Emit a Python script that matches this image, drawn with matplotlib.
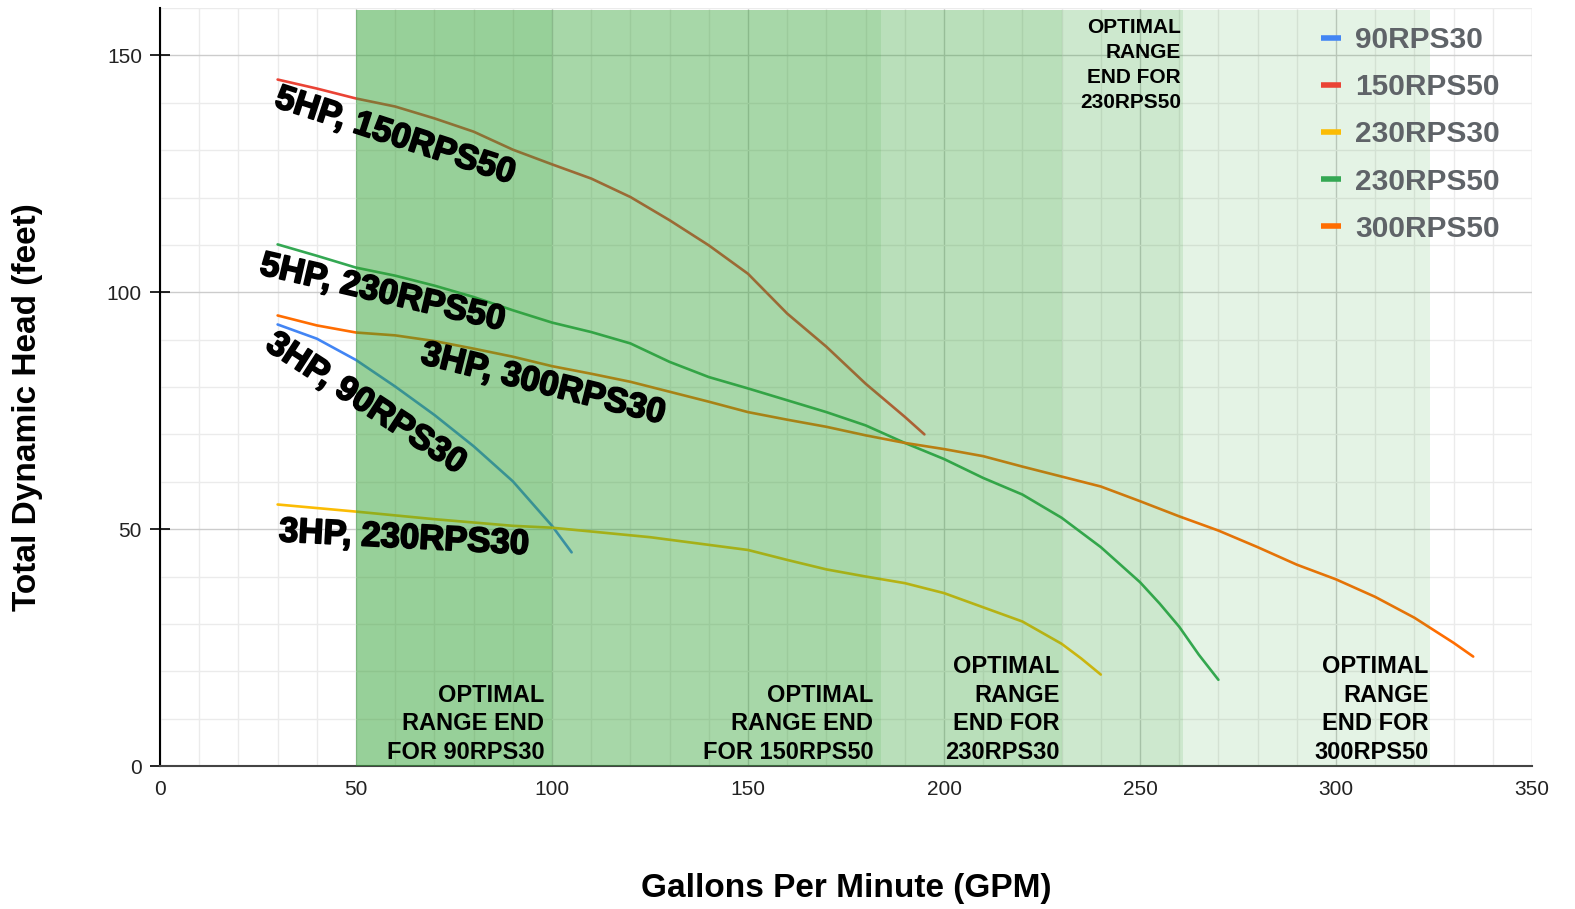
import numpy as np
import matplotlib.pyplot as plt
import matplotlib.patheffects as pe
from matplotlib.lines import Line2D
from matplotlib.ticker import MultipleLocator

plt.rcParams['font.family'] = ['Liberation Sans', 'DejaVu Sans']

# pump curves: GPM -> total dynamic head (feet)
gpm_90rps30 = [30, 40, 50, 60, 70, 80, 90, 100, 105]
head_90rps30 = [93.2, 90.2, 85.7, 80.1, 74.1, 67.5, 60.1, 50.7, 45.1]

gpm_150rps50 = [30, 40, 50, 60, 70, 80, 90, 100, 110, 120, 130, 140, 150, 160, 170, 180, 190, 195]
head_150rps50 = [144.9, 143.0, 140.9, 139.2, 136.7, 133.9, 130.1, 127.0, 124.0, 120.1, 115.2,
                 109.9, 103.9, 95.5, 88.5, 80.7, 73.7, 70.0]

gpm_230rps30 = [30, 50, 70, 90, 100, 125, 150, 160, 170, 180, 190, 200, 210, 220, 230, 235, 240]
head_230rps30 = [55.2, 53.7, 52.1, 50.7, 50.3, 48.3, 45.6, 43.5, 41.5, 40.0, 38.6, 36.5, 33.5,
                 30.5, 25.8, 22.7, 19.3]

gpm_230rps50 = [30, 40, 50, 60, 70, 80, 90, 100, 110, 120, 130, 140, 150, 160, 170, 180, 190,
                200, 210, 220, 230, 240, 250, 255, 260, 265, 270]
head_230rps50 = [110.1, 107.7, 105.2, 103.5, 101.4, 99.0, 96.2, 93.6, 91.6, 89.2, 85.3, 82.1,
                 79.7, 77.2, 74.7, 71.9, 68.2, 64.8, 60.8, 57.3, 52.4, 46.2, 38.8, 34.3, 29.4,
                 23.5, 18.2]

gpm_300rps50 = [30, 40, 50, 60, 70, 80, 90, 100, 110, 120, 130, 140, 150, 160, 170, 180, 190,
                200, 210, 220, 230, 240, 250, 260, 270, 280, 290, 300, 310, 320, 330, 335]
head_300rps50 = [95.1, 93.0, 91.5, 90.9, 89.7, 88.1, 86.4, 84.4, 82.8, 81.1, 79.0, 76.9, 74.7,
                 73.1, 71.6, 69.8, 68.2, 66.9, 65.4, 63.2, 61.1, 59.0, 55.9, 52.7, 49.7, 46.2,
                 42.5, 39.4, 35.7, 31.3, 26.0, 23.1]

series_names = ['90RPS30', '150RPS50', '230RPS30', '230RPS50', '300RPS50']
series_colors = ['#4285f4', '#ea4335', '#fbbc04', '#34a853', '#ff6d01']

# optimal range shading (all start at 50 GPM)
range_start = 50
range_ends = [100, 184, 230, 261, 324]

# curve labels: text, x, y, rotation
curve_labels = ['5HP, 150RPS50', '5HP, 230RPS50', '3HP, 300RPS30', '3HP, 90RPS30', '3HP, 230RPS30']
curve_label_x = [60.0, 56.8, 97.8, 52.6, 62.3]
curve_label_y = [133.0, 99.9, 80.6, 76.5, 48.1]
curve_label_rot = [-18, -13, -14, -33, -3]

# optimal range notes: text, right edge x, bottom y
range_notes = ['OPTIMAL\nRANGE END\nFOR 90RPS30',
               'OPTIMAL\nRANGE END\nFOR 150RPS50',
               'OPTIMAL\nRANGE\nEND FOR\n230RPS30',
               'OPTIMAL\nRANGE\nEND FOR\n300RPS50']
range_note_x = [98.0, 182.0, 229.4, 323.6]
range_note_y = [0.4, 0.4, 0.4, 0.4]

fig = plt.figure(figsize=(15.75, 9.09), dpi=100)
ax = fig.add_axes([0.1016, 0.1573, 0.8711, 0.8339])

xs = [gpm_90rps30, gpm_150rps50, gpm_230rps30, gpm_230rps50, gpm_300rps50]
ys = [head_90rps30, head_150rps50, head_230rps30, head_230rps50, head_300rps50]
for x, y, c in zip(xs, ys, series_colors):
    ax.plot(x, y, color=c, linewidth=1.9, zorder=2, solid_capstyle='round',
            solid_joinstyle='round')

for end in range_ends:
    ax.fill_between([range_start, end], 0, 159.5, color='#33a336', alpha=0.13,
                    linewidth=0, zorder=3)

heavy = [pe.withStroke(linewidth=1.3, foreground='black')]
for t, x, y, r in zip(curve_labels, curve_label_x, curve_label_y, curve_label_rot):
    ax.text(x, y, t, rotation=r, rotation_mode='anchor', ha='center', va='center',
            fontsize=25, fontweight='bold', color='black', zorder=5, path_effects=heavy)

for t, x, y in zip(range_notes, range_note_x, range_note_y):
    ax.text(x, y, t, ha='right', va='bottom', multialignment='right',
            fontsize=17, fontweight='bold', color='black', linespacing=1.32, zorder=5)

ax.text(260.4, 157.8, 'OPTIMAL\nRANGE\nEND FOR\n230RPS50', ha='right', va='top',
        multialignment='right', fontsize=15, fontweight='bold', color='black',
        linespacing=1.38, zorder=5)

ax.set_xlim(0, 350)
ax.set_ylim(0, 160)
ax.xaxis.set_major_locator(MultipleLocator(50))
ax.yaxis.set_major_locator(MultipleLocator(50))
ax.xaxis.set_minor_locator(MultipleLocator(10))
ax.yaxis.set_minor_locator(MultipleLocator(10))
ax.grid(which='minor', color='#ebebeb', linewidth=1.0, zorder=0)
ax.grid(which='major', color='#cccccc', linewidth=1.0, zorder=0)
ax.set_axisbelow(True)

ax.tick_params(axis='x', which='major', length=0, pad=10, labelsize=15, labelcolor='#222222')
ax.tick_params(axis='y', which='major', direction='inout', length=14, width=1.2,
               pad=6, labelsize=15, labelcolor='#222222')
ax.tick_params(which='minor', length=0)

for s in ['top', 'right']:
    ax.spines[s].set_visible(False)
ax.spines['left'].set_color('black')
ax.spines['left'].set_linewidth(1.5)
ax.spines['bottom'].set_color('#444444')
ax.spines['bottom'].set_linewidth(1.5)

fig.text(0.0175, 0.5523, 'Total Dynamic Head (feet)', rotation=90, ha='center', va='center',
         fontsize=24, fontweight='bold')
fig.text(0.5371, 1 - 888 / 909, 'Gallons Per Minute (GPM)', ha='center', va='center',
         fontsize=24, fontweight='bold')

handles = [Line2D([0], [0], color=c, linewidth=4, solid_capstyle='butt') for c in series_colors]
leg = ax.legend(handles, series_names, loc='upper left', bbox_to_anchor=(0.8465, 0.976),
                frameon=False, borderpad=0, borderaxespad=0, handlelength=0.67,
                handletextpad=0.47, labelspacing=0.64,
                prop={'weight': 'bold', 'size': 21.5})
for txt in leg.get_texts():
    txt.set_color('#5f6368')
leg.set_zorder(10)

fig.savefig('out.png', dpi=100)
